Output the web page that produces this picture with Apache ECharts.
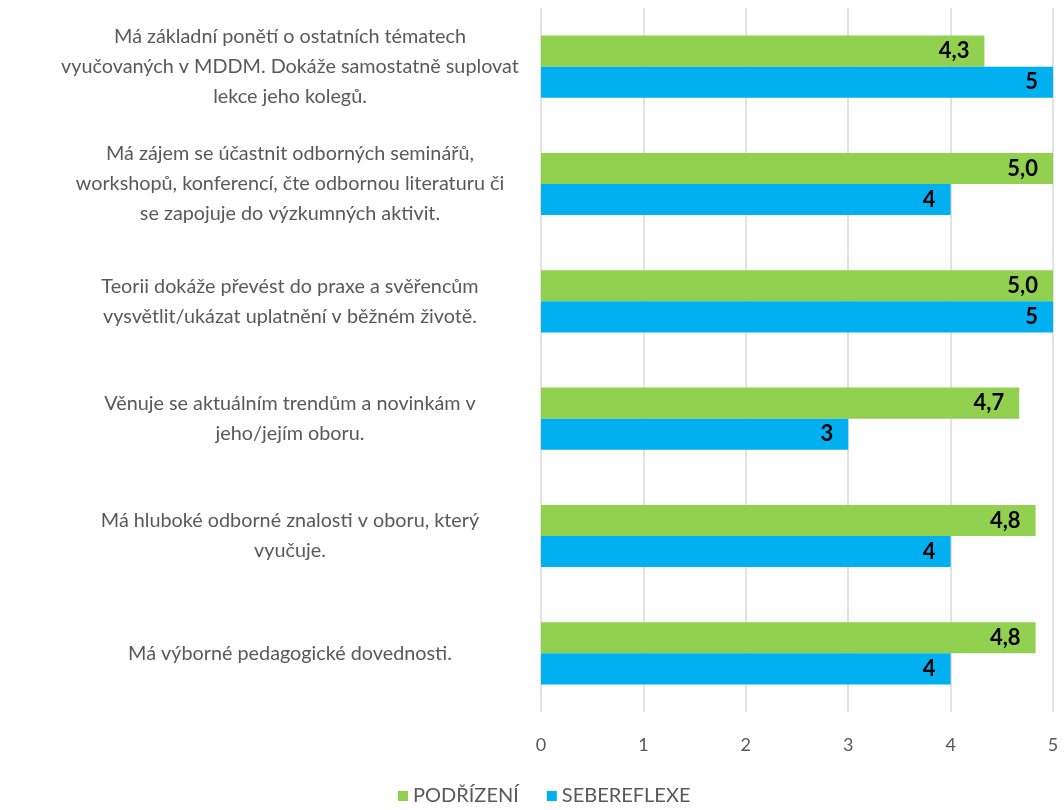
<!DOCTYPE html>
<html>
<head>
<meta charset="utf-8">
<style>
  html, body { margin: 0; padding: 0; background: #fff; }
  #chart { width: 1064px; height: 810px; }
</style>
<script src="https://cdn.jsdelivr.net/npm/echarts@6/dist/echarts.min.js"></script>
</head>
<body>
<div id="chart"></div>
<script>
// Competence statements (top to bottom)
const categories = [
  'Má základní ponětí o ostatních tématech\nvyučovaných v MDDM. Dokáže samostatně suplovat\nlekce jeho kolegů.',
  'Má zájem se účastnit odborných seminářů,\nworkshopů, konferencí, čte odbornou literaturu či\nse zapojuje do výzkumných aktivit.',
  'Teorii dokáže převést do praxe a svěřencům\nvysvětlit/ukázat uplatnění v běžném životě.',
  'Věnuje se aktuálním trendům a novinkám v\njeho/jejím oboru.',
  'Má hluboké odborné znalosti v oboru, který\nvyučuje.',
  'Má výborné pedagogické dovednosti.'
];
// Mean rating by subordinates
const podrizeni = [4.33, 5.0, 5.0, 4.67, 4.83, 4.83];
// Self-assessment
const sebereflexe = [5, 4, 5, 3, 4, 4];
const xTicks = [0, 1, 2, 3, 4, 5];
const seriesNames = ['PODŘÍZENÍ', 'SEBEREFLEXE'];

const FONT = 'Lato, "Open Sans", sans-serif';
const GREY = '#595959';

const chart = echarts.init(document.getElementById('chart'));

const labelStyle = (fmt) => ({
  show: true,
  position: 'insideRight',
  distance: 15,
  color: '#000',
  fontWeight: 'bold',
  fontSize: 22,
  fontFamily: FONT,
  formatter: fmt
});

chart.setOption({
  animation: false,
  grid: { left: 541, right: 11, top: 8, bottom: 98, containLabel: false },
  legend: {
    top: 786,
    left: 398,
    padding: 0,
    icon: 'rect',
    itemWidth: 10,
    itemHeight: 10,
    itemGap: 28,
    textStyle: { color: GREY, fontSize: 20, fontFamily: FONT },
    data: seriesNames
  },
  xAxis: {
    type: 'value',
    min: xTicks[0],
    max: xTicks[xTicks.length - 1],
    interval: 1,
    axisLine: { show: false },
    axisTick: { show: false },
    splitLine: { show: true, lineStyle: { color: '#d9d9d9', width: 1.5 } },
    axisLabel: { color: GREY, fontSize: 18, fontFamily: FONT, margin: 24 }
  },
  yAxis: {
    type: 'category',
    inverse: true,
    data: categories,
    axisLine: { show: false },
    axisTick: { show: false },
    axisLabel: {
      color: GREY,
      fontSize: 19.8,
      fontFamily: FONT,
      lineHeight: 30,
      align: 'center',
      margin: 251
    }
  },
  series: [
    {
      name: seriesNames[0],
      type: 'bar',
      data: podrizeni,
      itemStyle: { color: '#92D050' },
      barGap: '0%',
      barCategoryGap: '47%',
      label: labelStyle(p => p.value.toFixed(1).replace('.', ','))
    },
    {
      name: seriesNames[1],
      type: 'bar',
      data: sebereflexe,
      itemStyle: { color: '#00B0F0' },
      barGap: '0%',
      barCategoryGap: '47%',
      label: labelStyle(p => String(p.value))
    }
  ]
});
</script>
</body>
</html>
